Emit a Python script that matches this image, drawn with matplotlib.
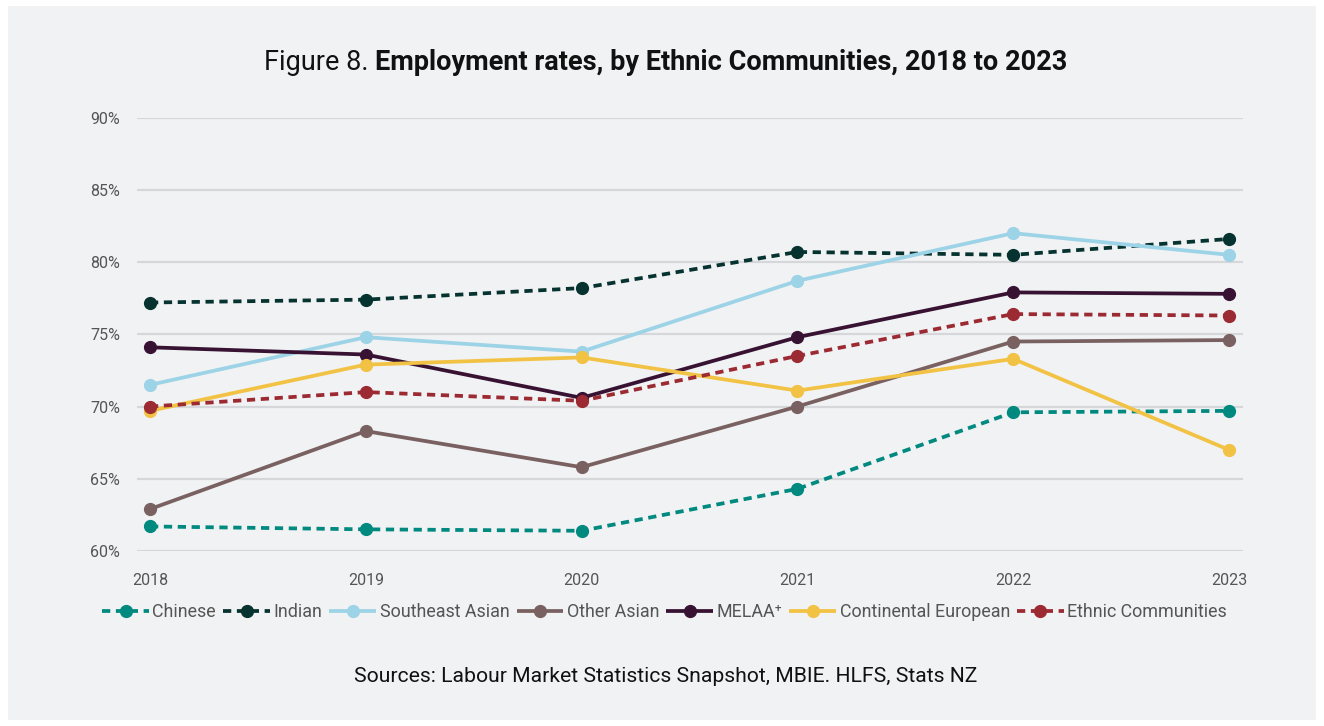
import matplotlib
matplotlib.use("Agg")
import matplotlib.pyplot as plt
from matplotlib.ticker import FuncFormatter
from matplotlib.patches import Rectangle

plt.rcParams['font.family'] = ['Roboto', 'DejaVu Sans']

years = [2018, 2019, 2020, 2021, 2022, 2023]

chinese = [61.7, 61.5, 61.4, 64.3, 69.6, 69.7]
indian = [77.2, 77.4, 78.2, 80.7, 80.5, 81.6]
southeast_asian = [71.5, 74.8, 73.8, 78.7, 82.0, 80.5]
other_asian = [62.9, 68.3, 65.8, 70.0, 74.5, 74.6]
melaa = [74.1, 73.6, 70.6, 74.8, 77.9, 77.8]
continental_european = [69.7, 72.9, 73.4, 71.1, 73.3, 67.0]
ethnic_communities = [70.0, 71.0, 70.4, 73.5, 76.4, 76.3]

y_ticks = [60, 65, 70, 75, 80, 85, 90]

series = [
    ("Chinese", chinese, "#00897f", True),
    ("Indian", indian, "#06332f", True),
    ("Southeast Asian", southeast_asian, "#9dd3e6", False),
    ("Other Asian", other_asian, "#7a6161", False),
    ("MELAA\u207a", melaa, "#381232", False),
    ("Continental European", continental_european, "#f2c244", False),
    ("Ethnic Communities", ethnic_communities, "#9c2a32", True),
]

bg = "#f1f2f4"
fig = plt.figure(figsize=(13.24, 7.26), dpi=100)
fig.patch.set_facecolor("white")
fig.add_artist(Rectangle((8 / 1324, 6 / 726), 1 - 16 / 1324, 1 - 12 / 726,
                         transform=fig.transFigure, facecolor=bg,
                         edgecolor="none", zorder=0))

ax = fig.add_axes([137 / 1324, 1 - 551 / 726, (1243 - 137) / 1324, (551 - 117.6) / 726])
ax.set_facecolor("none")
ax.set_xlim(2018 - 13 / 215.8, 2023 + 14 / 215.8)
ax.set_ylim(60, 90)
ax.set_yticks(y_ticks)
ax.yaxis.set_major_formatter(FuncFormatter(lambda v, p: f"{v:.0f}%"))
ax.set_xticks(years)
ax.set_xticklabels([str(y) for y in years])
ax.grid(axis="y", color="#d6d7da", linewidth=1.6)
ax.set_axisbelow(True)
for s in ax.spines.values():
    s.set_visible(False)
ax.tick_params(axis="both", length=0, labelsize=11.5, labelcolor="#555555")
ax.tick_params(axis="y", pad=12)
ax.tick_params(axis="x", pad=16)

handles = []
for name, vals, color, dashed in series:
    ls = (0, (2.2, 1.5)) if dashed else "-"
    h, = ax.plot(years, vals, color=color, linewidth=2.7, linestyle=ls,
                 marker="o", markersize=8.5, label=name, clip_on=False,
                 solid_capstyle="butt", dash_capstyle="butt")
    handles.append(h)

fig.legend(handles=handles, loc="center", bbox_to_anchor=(0.502, 1 - 612 / 726),
           ncol=7, frameon=False, fontsize=12.9, handlelength=2.6,
           handletextpad=0.2, columnspacing=0.4, labelcolor="#555555",
           borderaxespad=0)

# Title: regular prefix followed by a bold heading
fig.canvas.draw()
renderer = fig.canvas.get_renderer()
t_y = 1 - 62 / 726
t1 = fig.text(0, t_y, "Figure 8. ", fontsize=19.5, va="center", ha="left", color="#111111")
t2 = fig.text(0, t_y, "Employment rates, by Ethnic Communities, 2018 to 2023",
              fontsize=19.5, fontweight="bold", va="center", ha="left", color="#111111")
w1 = t1.get_window_extent(renderer).width / fig.bbox.width
w2 = t2.get_window_extent(renderer).width / fig.bbox.width
x0 = 0.503 - (w1 + w2) / 2
t1.set_x(x0)
t2.set_x(x0 + w1)

fig.text(0.503, 1 - 676 / 726, "Sources: Labour Market Statistics Snapshot, MBIE. HLFS, Stats NZ",
         fontsize=15.2, ha="center", va="center", color="#111111")

fig.savefig("out.png", dpi=100, facecolor=fig.get_facecolor())
